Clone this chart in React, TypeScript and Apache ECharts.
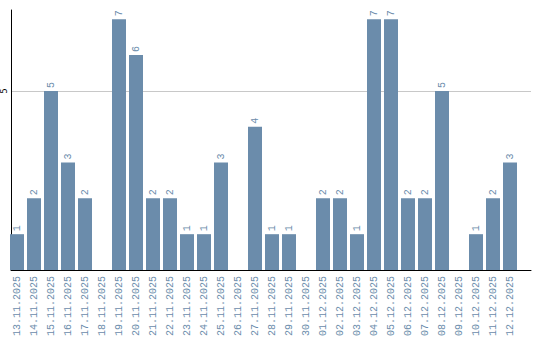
import React, { useEffect, useRef } from "react";
import * as echarts from "echarts";

const categories = [
  "13.11.2025", "14.11.2025", "15.11.2025", "16.11.2025", "17.11.2025",
  "18.11.2025", "19.11.2025", "20.11.2025", "21.11.2025", "22.11.2025",
  "23.11.2025", "24.11.2025", "25.11.2025", "26.11.2025", "27.11.2025",
  "28.11.2025", "29.11.2025", "30.11.2025", "01.12.2025", "02.12.2025",
  "03.12.2025", "04.12.2025", "05.12.2025", "06.12.2025", "07.12.2025",
  "08.12.2025", "09.12.2025", "10.12.2025", "11.12.2025", "12.12.2025",
];
const values = [1, 2, 5, 3, 2, 0, 7, 6, 2, 2, 1, 1, 3, 0, 4, 1, 1, 0, 2, 2, 1, 7, 7, 2, 2, 5, 0, 1, 2, 3];
const yTicks = [5];
const yMax = 7.26;

const BAR = "#6b8cab";
const MONO = "'Liberation Mono', 'DejaVu Sans Mono', monospace";

export default function App() {
  const ref = useRef<HTMLDivElement>(null);
  useEffect(() => {
    if (!ref.current) return;
    const chart = echarts.init(ref.current, undefined, { renderer: "svg" });
    chart.setOption({
      animation: false,
      grid: [
        { left: 8.5, width: 510, top: 10, bottom: 70 },
        { left: 10, right: 9, top: 10, bottom: 70 },
      ],
      xAxis: [
        {
          type: "category",
          gridIndex: 0,
          data: categories,
          axisLine: { show: false },
          axisTick: { show: false },
          axisLabel: {
            interval: 0,
            rotate: 90,
            color: BAR,
            fontFamily: MONO,
            fontSize: 10,
            margin: 6,
          },
        },
        {
          type: "value",
          gridIndex: 1,
          min: 0,
          max: 1,
          axisLine: { show: true, onZero: false, lineStyle: { color: "#000", width: 1 } },
          axisTick: { show: false },
          axisLabel: { show: false },
          splitLine: { show: false },
        },
      ],
      yAxis: [
        {
          type: "value",
          gridIndex: 0,
          min: 0,
          max: yMax,
          show: false,
        },
        {
          type: "value",
          gridIndex: 1,
          min: 0,
          max: yMax,
          interval: 5,
          axisLine: { show: true, lineStyle: { color: "#000", width: 1 } },
          axisTick: { show: false },
          axisLabel: {
            rotate: 90,
            color: "#000",
            fontSize: 8,
            fontFamily: "'DejaVu Sans', sans-serif",
            margin: 3,
            showMaxLabel: false,
            formatter: (v: number) => (yTicks.includes(v) ? String(v) : ""),
          },
          splitLine: {
            show: true,
            showMaxLine: false,
            showMinLine: false,
            lineStyle: { color: "#c8c8c8", width: 1 },
          },
        },
      ],
      series: [
        {
          type: "bar",
          xAxisIndex: 0,
          yAxisIndex: 0,
          data: values.map((v) => (v === 0 ? null : v)),
          barWidth: 14,
          itemStyle: { color: BAR },
          label: {
            show: true,
            position: "top",
            rotate: 90,
            align: "left",
            verticalAlign: "middle",
            distance: 3,
            color: BAR,
            fontFamily: MONO,
            fontSize: 10,
          },
        },
      ],
    });
    return () => chart.dispose();
  }, []);
  return (
    <div
      ref={ref}
      style={{ position: "fixed", left: 0, top: 0, width: 540, height: 340, background: "#fff" }}
    />
  );
}
